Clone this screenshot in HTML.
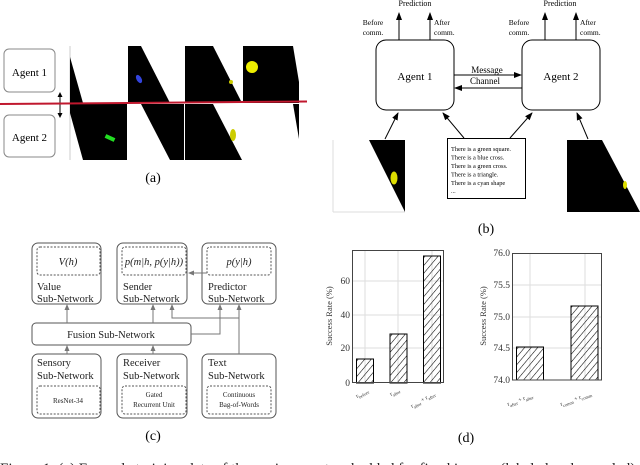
<!DOCTYPE html>
<html><head><meta charset="utf-8"><style>
html,body{margin:0;padding:0;background:#fff;}
svg{display:block;font-family:"Liberation Serif",serif;}
</style></head><body>
<svg width="640" height="465" viewBox="0 0 640 465" xmlns="http://www.w3.org/2000/svg">
<defs>
<marker id="ah" markerWidth="8" markerHeight="8" refX="7" refY="4" orient="auto" markerUnits="userSpaceOnUse"><path d="M0,1 L8,4 L0,7 z" fill="#000"/></marker>
<marker id="ag" markerWidth="6" markerHeight="6" refX="5" refY="3" orient="auto" markerUnits="userSpaceOnUse"><path d="M0,0.5 L6,3 L0,5.5 z" fill="#777"/></marker>
<pattern id="hatch" width="5" height="5" patternUnits="userSpaceOnUse" patternTransform="rotate(40)"><line x1="0" y1="0" x2="0" y2="5" stroke="#000" stroke-width="1.1"/></pattern>
</defs>

<!-- Panel a -->
<rect x="4" y="49" width="51" height="43" rx="5" fill="#fff" stroke="#888"/>
<text x="29.5" y="76" font-size="11" text-anchor="middle">Agent 1</text>
<rect x="4" y="115" width="51" height="42" rx="5" fill="#fff" stroke="#888"/>
<text x="29.5" y="141" font-size="11" text-anchor="middle">Agent 2</text>
<line x1="60" y1="95" x2="60" y2="115" stroke="#000" stroke-width="1"/>
<path d="M57.5,97 L60,92 L62.5,97 z M57.5,113 L60,118 L62.5,113 z" fill="#000"/>
<line x1="70" y1="46" x2="70" y2="160" stroke="#ccc"/>
<polygon points="70,57 83,103 70,103" fill="#000"/>
<polygon points="128,46 141,46 170,103 128,103" fill="#000"/>
<polygon points="185,46 213,46 242,103 185,103" fill="#000"/>
<polygon points="243,46 293,46 299,82 299,103 243,103" fill="#000"/>
<polygon points="70,104 127,104 127,160 83,160 70,113" fill="#000"/>
<polygon points="141,104 184,104 184,160 170,160" fill="#000"/>
<polygon points="185,104 213,104 242,160 185,160" fill="#000"/>
<polygon points="293,104 299,104 299,139" fill="#000"/>
<ellipse cx="139" cy="79" rx="2.5" ry="4.5" transform="rotate(-30 139 79)" fill="#3344dd"/>
<rect x="105" y="136" width="10" height="4" transform="rotate(25 110 138)" fill="#22dd22"/>
<circle cx="252" cy="67" r="6" fill="#eeee00"/>
<ellipse cx="233" cy="135" rx="3" ry="6" fill="#cccc00"/>
<circle cx="231" cy="82" r="2" fill="#cccc00"/>
<line x1="0" y1="104" x2="307" y2="101.5" stroke="#c0182e" stroke-width="2"/>
<text x="153" y="182" font-size="14" text-anchor="middle">(a)</text>

<!-- Panel b -->
<text x="415" y="6" font-size="8" text-anchor="middle">Prediction</text>
<text x="560" y="6" font-size="8" text-anchor="middle">Prediction</text>
<line x1="399" y1="40" x2="399" y2="13" stroke="#000" marker-end="url(#ah)"/>
<line x1="430" y1="40" x2="430" y2="13" stroke="#000" marker-end="url(#ah)"/>
<line x1="545" y1="40" x2="545" y2="13" stroke="#000" marker-end="url(#ah)"/>
<line x1="576" y1="40" x2="576" y2="13" stroke="#000" marker-end="url(#ah)"/>
<g font-size="7.5">
<text x="373" y="25" text-anchor="middle">Before</text><text x="373" y="35" text-anchor="middle">comm.</text>
<text x="434" y="25">After</text><text x="434" y="35">comm.</text>
<text x="519" y="25" text-anchor="middle">Before</text><text x="519" y="35" text-anchor="middle">comm.</text>
<text x="580" y="25">After</text><text x="580" y="35">comm.</text>
</g>
<rect x="376" y="40" width="78" height="70" rx="10" fill="#fff" stroke="#000"/>
<text x="415" y="80" font-size="11" text-anchor="middle">Agent 1</text>
<rect x="522" y="40" width="78" height="70" rx="10" fill="#fff" stroke="#000"/>
<text x="561" y="80" font-size="11" text-anchor="middle">Agent 2</text>
<line x1="454" y1="75" x2="521" y2="75" stroke="#000" marker-end="url(#ah)"/>
<line x1="522" y1="88" x2="455" y2="88" stroke="#000" marker-end="url(#ah)"/>
<text x="487" y="73" font-size="9" text-anchor="middle">Message</text>
<text x="485" y="84" font-size="9" text-anchor="middle">Channel</text>
<line x1="333" y1="140" x2="333" y2="212" stroke="#ddd"/>
<line x1="333" y1="212" x2="405" y2="212" stroke="#ddd"/>
<polygon points="369,140 405,140 405,212" fill="#000"/>
<ellipse cx="394" cy="178" rx="3.5" ry="6.5" fill="#dddd00"/>
<polygon points="567,140 602,140 640,212 567,212" fill="#000"/>
<ellipse cx="625" cy="185" rx="2" ry="4" fill="#dddd00"/>
<rect x="447.5" y="138.5" width="78" height="60" fill="#fff" stroke="#000"/>
<g font-size="6.3">
<text x="451" y="151">There is a green square.</text>
<text x="451" y="159.5">There is a blue cross.</text>
<text x="451" y="168">There is a green cross.</text>
<text x="451" y="176.5">There is a triangle.</text>
<text x="451" y="185">There is a cyan shape</text>
<text x="451" y="193">...</text>
</g>
<line x1="385" y1="139" x2="398" y2="113" stroke="#000" marker-end="url(#ah)"/>
<line x1="464" y1="138" x2="443" y2="113" stroke="#000" marker-end="url(#ah)"/>
<line x1="510" y1="138" x2="532" y2="113" stroke="#000" marker-end="url(#ah)"/>
<line x1="588" y1="139" x2="577" y2="113" stroke="#000" marker-end="url(#ah)"/>
<text x="486" y="233" font-size="14" text-anchor="middle">(b)</text>

<!-- Panel c -->
<g stroke="#555" fill="#fff">
<rect x="32" y="243" width="69" height="61" rx="6"/>
<rect x="117" y="243" width="70" height="61" rx="6"/>
<rect x="202" y="243" width="74" height="61" rx="6"/>
<rect x="32" y="323" width="159" height="22" rx="4"/>
<rect x="32" y="354" width="69" height="64" rx="6"/>
<rect x="117" y="354" width="70" height="64" rx="6"/>
<rect x="202" y="354" width="74" height="64" rx="6"/>
</g>
<g stroke="#555" fill="none" stroke-dasharray="2,1.5">
<rect x="37" y="247" width="63" height="28" rx="3"/>
<rect x="122" y="247" width="64" height="28" rx="3"/>
<rect x="207" y="247" width="64" height="28" rx="3"/>
<rect x="37" y="386" width="63" height="28" rx="3"/>
<rect x="122" y="386" width="64" height="28" rx="3"/>
<rect x="207" y="386" width="64" height="28" rx="3"/>
</g>
<g font-size="10.5" fill="#222">
<text x="68" y="265" text-anchor="middle" font-style="italic">V(h)</text>
<text x="154" y="265" text-anchor="middle" font-style="italic">p(m|h, p(y|h))</text>
<text x="239" y="265" text-anchor="middle" font-style="italic">p(y|h)</text>
<text x="37" y="290">Value</text><text x="37" y="302">Sub-Network</text>
<text x="123" y="290">Sender</text><text x="123" y="302">Sub-Network</text>
<text x="208" y="290">Predictor</text><text x="208" y="302">Sub-Network</text>
<text x="111" y="338" text-anchor="middle">Fusion Sub-Network</text>
<text x="37" y="366">Sensory</text><text x="37" y="379">Sub-Network</text>
<text x="123" y="366">Receiver</text><text x="123" y="379">Sub-Network</text>
<text x="208" y="366">Text</text><text x="208" y="379">Sub-Network</text>
</g>
<g font-size="7" fill="#222" text-anchor="middle">
<text x="68" y="403">ResNet-34</text>
<text x="154" y="397">Gated</text><text x="154" y="407">Recurrent Unit</text>
<text x="239" y="397">Continuous</text><text x="239" y="407">Bag-of-Words</text>
</g>
<g stroke="#777" fill="none" stroke-width="1">
<line x1="67" y1="323" x2="67" y2="305" marker-end="url(#ag)"/>
<line x1="153" y1="323" x2="153" y2="305" marker-end="url(#ag)"/>
<line x1="67" y1="354" x2="67" y2="346" marker-end="url(#ag)"/>
<line x1="153" y1="354" x2="153" y2="346" marker-end="url(#ag)"/>
<polyline points="191,334 220,334 220,305" marker-end="url(#ag)"/>
<polyline points="239,354 239,318" />
<line x1="239" y1="318" x2="239" y2="305" marker-end="url(#ag)"/>
<polyline points="239,318 172,318 172,305" marker-end="url(#ag)"/>
<line x1="207" y1="273" x2="189" y2="273" marker-end="url(#ag)"/>
</g>
<text x="153" y="440" font-size="14" text-anchor="middle">(c)</text>

<!-- Panel d left -->
<g stroke="#ddd" stroke-width="1">
<line x1="365" y1="251" x2="365" y2="383"/><line x1="398" y1="251" x2="398" y2="383"/><line x1="432" y1="251" x2="432" y2="383"/>
<line x1="353" y1="348" x2="444" y2="348"/><line x1="353" y1="315" x2="444" y2="315"/><line x1="353" y1="281" x2="444" y2="281"/>
</g>
<rect x="356.5" y="359" width="17" height="24" fill="url(#hatch)" stroke="#000"/>
<rect x="390" y="334" width="17" height="49" fill="url(#hatch)" stroke="#000"/>
<rect x="423.5" y="256" width="17" height="127" fill="url(#hatch)" stroke="#000"/>
<rect x="352.5" y="250.5" width="91" height="132" fill="none" stroke="#444"/>
<g font-size="9.5" text-anchor="end" fill="#333">
<text x="350" y="386">0</text><text x="350" y="351">20</text><text x="350" y="318">40</text><text x="350" y="284">60</text>
</g>
<text transform="translate(332 316) rotate(-90)" font-size="8.5" text-anchor="middle" fill="#333">Success Rate (%)</text>
<g font-size="6" fill="#333">
<text transform="translate(357 398) rotate(-30)">r<tspan font-size="4.5" dy="2">before</tspan></text>
<text transform="translate(391 396) rotate(-30)">r<tspan font-size="4.5" dy="2">after</tspan></text>
<text transform="translate(412 408) rotate(-30)">r<tspan font-size="4.5" dy="2">after</tspan><tspan dy="-2"> + r</tspan><tspan font-size="4.5" dy="2">after</tspan></text>
</g>
<!-- Panel d right -->
<g stroke="#ddd" stroke-width="1">
<line x1="530" y1="253" x2="530" y2="380"/><line x1="585" y1="253" x2="585" y2="380"/>
<line x1="512" y1="285" x2="602" y2="285"/><line x1="512" y1="317" x2="602" y2="317"/><line x1="512" y1="348" x2="602" y2="348"/>
</g>
<rect x="516.5" y="347" width="27" height="33" fill="url(#hatch)" stroke="#000"/>
<rect x="571" y="306" width="27" height="74" fill="url(#hatch)" stroke="#000"/>
<rect x="512.5" y="253.5" width="89" height="126.5" fill="none" stroke="#444"/>
<g font-size="9.5" text-anchor="end" fill="#333">
<text x="510" y="383">74.0</text><text x="510" y="351">74.5</text><text x="510" y="320">75.0</text><text x="510" y="288">75.5</text><text x="510" y="256">76.0</text>
</g>
<text transform="translate(486 316) rotate(-90)" font-size="8.5" text-anchor="middle" fill="#333">Success Rate (%)</text>
<g font-size="6" fill="#333">
<text transform="translate(508 406) rotate(-20)">r<tspan font-size="4.5" dy="2">after</tspan><tspan dy="-2"> + r</tspan><tspan font-size="4.5" dy="2">after</tspan></text>
<text transform="translate(561 406) rotate(-20)">r<tspan font-size="4.5" dy="2">comm</tspan><tspan dy="-2"> + r</tspan><tspan font-size="4.5" dy="2">comm</tspan></text>
</g>
<text x="466" y="442" font-size="14" text-anchor="middle">(d)</text>

<!-- caption (clipped) -->
<text x="0" y="473" font-size="15" fill="#222">Figure 1: (a) Example training data of the environment embedded for fixed images (labeled and unscaled) in</text>
</svg>
</body></html>
